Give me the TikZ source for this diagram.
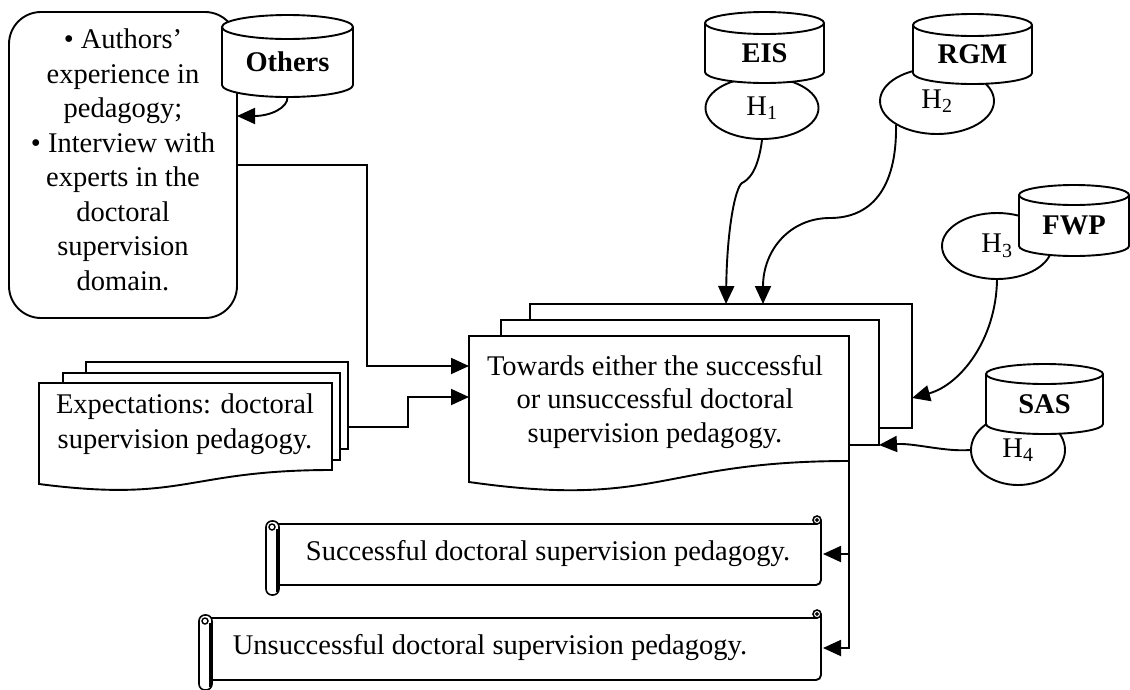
\documentclass[tikz,border=0pt]{standalone}
\usepackage{fontspec}
\setmainfont{Liberation Serif}
\usetikzlibrary{arrows.meta,shapes.geometric}

% database cylinder: name, cx, top, bottom, rx, ry, label
\newcommand\dbcyl[7]{%
  \fill[white] (#2-#5,#3) rectangle (#2+#5,#4);
  \fill[white] (#2,#4) ellipse[x radius=#5, y radius=#6];
  \begin{scope}
    \clip (#2-#5-3,#4) rectangle (#2+#5+3,#4+#6+3);
    \draw (#2,#4) ellipse[x radius=#5, y radius=#6];
  \end{scope}
  \draw (#2-#5,#3) -- (#2-#5,#4) (#2+#5,#3) -- (#2+#5,#4);
  \draw[fill=white] (#2,#3) ellipse[x radius=#5, y radius=#6];
  \node[lbl] (#1) at (#2,{(#3+#4)/2+#6/2}) {#7};
}
% horizontal scroll: roll left x, top, bottom, right
\newcommand\scrollshape[4]{%
  \fill[white] (#1+6,#2) rectangle (#4,#3);
  \draw (#1+6,#2) -- (#4-4,#2);
  \draw[rounded corners=5] (#4,#2-4) -- (#4,#3) -- (#1+10,#3);
  \draw[line width=1.6pt] (#4-4,#2-4) circle[radius=4];
  \draw[line width=1.2pt] (#4-4,#2-4) circle[radius=1.3];
  \draw[fill=white, rounded corners=6, line width=1.6pt] (#1,#2-3) rectangle (#1+13,#3+10);
  \draw[line width=3pt] (#1+11,#2+5) -- (#1+11,#3+7);
  \draw[line width=1.4pt] (#1+6,#2+3) circle[radius=3];
}

\begin{document}
\begin{tikzpicture}[x=1pt,y=-1pt,line width=1.9pt,
  txt/.style={font=\fontsize{28.5}{34.5}\selectfont, align=center, inner sep=0pt},
  lbl/.style={font=\fontsize{28.5}{34.5}\selectfont\bfseries, inner sep=0pt},
  hell/.style={draw, fill=white, ellipse, inner sep=0pt, font=\fontsize{28.5}{34.5}\selectfont},
  arr/.style={-{Triangle[length=18pt,width=16pt]}},
  page/.style={draw, fill=white},
  midpage/.style={draw, fill=white, line width=2.6pt}]
\useasboundingbox (0,0) rectangle (1130,689);

% ---------- top-left rounded box and Others ----------
\node[draw, fill=white, rounded corners=32pt, minimum width=228pt, minimum height=306pt] (rbox) at (123,165) {};
\node[txt] (rboxtxt) at (123,160)
  {• Authors’\\ experience in\\ pedagogy;\\ • Interview with\\ experts in the\\ doctoral\\ supervision\\ domain.};
\dbcyl{others}{287.5}{27}{85}{65.5}{12}{Others}
\coordinate (othersbot) at (287.5,97);
\coordinate (rbin) at (237,116);

% ---------- expectations multi-document ----------
\draw[page] (86,362) rectangle (348,449);
\draw[midpage] (63,373) rectangle (340,460);
\draw[page] (39,383) -- (332,383) -- (332,470) .. controls (185.5,470) and (185.5,503) .. (39,484) -- cycle;
\node[txt] (expt) at (185,424) {Expectations: doctoral\\ supervision pedagogy.};
\coordinate (eout) at (348,427);

% ---------- central multi-document ----------
\draw[page] (530,304) rectangle (912,428);
\draw[midpage] (501,320) rectangle (879,445);
\draw[page] (469,336) -- (849,336) -- (849,461) .. controls (659,461) and (659,509) .. (469,482) -- cycle;
\node[txt, font=\fontsize{28.5}{33.5}\selectfont] (tw) at (655,402) {Towards either the successful\\ or unsuccessful doctoral\\ supervision pedagogy.};
\coordinate (cinA) at (469,366);
\coordinate (cinB) at (469,397);
\coordinate (t1) at (726,304);
\coordinate (t2) at (763,304);
\coordinate (t3) at (912,398);
\coordinate (t4) at (879,445);
\coordinate (cout) at (849,408);

% ---------- hypotheses sources ----------
\node[hell, minimum width=113pt, minimum height=62pt] (H1) at (762,108) {H\textsubscript{1}};
\dbcyl{eis}{764.5}{23}{72}{59.5}{11}{EIS}
\node[hell, minimum width=114pt, minimum height=66pt] (H2) at (937,101) {H\textsubscript{2}};
\dbcyl{rgm}{972.5}{25}{73}{59.5}{11}{RGM}
\node[hell, minimum width=110pt, minimum height=66pt] (H3) at (997,246) {H\textsubscript{3}};
\dbcyl{fwp}{1074}{195}{246}{55}{10}{FWP}
\node[hell, minimum width=94pt, minimum height=70pt] (H4) at (1018,450) {\raisebox{-5pt}{H\textsubscript{4}}};
\dbcyl{sas}{1044.5}{374}{424}{58.5}{10}{SAS}

% ---------- scrolls ----------
\scrollshape{266}{524}{585}{821}
\node[txt] (s1) at (548,554) {Successful doctoral supervision pedagogy.};
\scrollshape{199}{618}{680}{821}
\node[txt] (s2) at (490,648) {Unsuccessful doctoral supervision pedagogy.};
\coordinate (s1in) at (823,554);
\coordinate (s2in) at (823,648);

% ---------- connectors ----------
\draw[arr] (othersbot) .. controls (288,108) and (270,116) .. (rbin);
\draw[arr] (rbox.east) -| (367,366) -- (cinA);
\draw[arr] (eout) -- (408,427) |- (cinB);
\draw[arr] (H1.south) .. controls (758,172) and (748,180) .. (742,183) .. controls (735,188) and (727,230) .. (t1);
\draw[arr] (H2.south west) .. controls (897,190) and (870,218) .. (830,218) .. controls (790,218) and (763,250) .. (t2);
\draw[arr] (H3.south) .. controls (996,340) and (960,385) .. (t3);
\draw[arr] (H4.west) .. controls (945,452) and (915,443) .. (t4);
\draw[arr] (cout) |- (s1in);
\draw[arr] (cout) |- (s2in);
\end{tikzpicture}
\end{document}
